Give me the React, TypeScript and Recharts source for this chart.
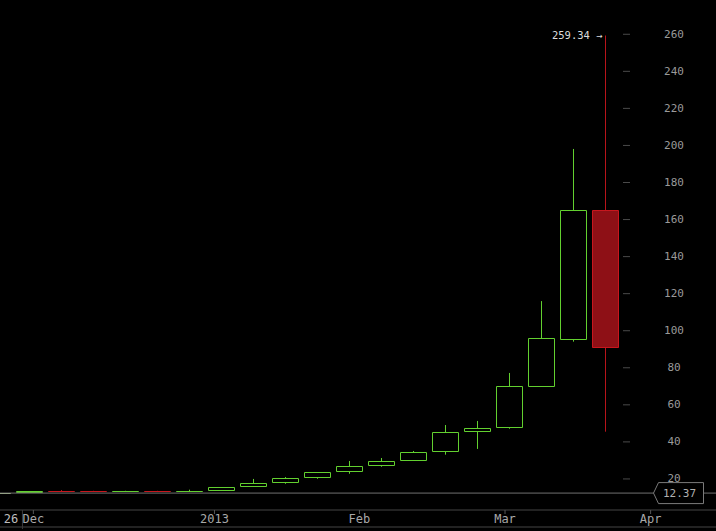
import React from 'react'
import { ComposedChart, Bar, XAxis, YAxis, ReferenceLine, ReferenceDot } from 'recharts'

// weekly candles, index 0 = first full week shown
const weekIndex = [-1, 0, 1, 2, 3, 4, 5, 6, 7, 8, 9, 10, 11, 12, 13, 14, 15, 16, 17, 18]
const opens = [12.3, 12.85, 13.5, 13.45, 13.35, 13.5, 13.4, 13.9, 16.0, 18.2, 20.9, 24.1, 27.4, 30.1, 34.9, 46.1, 47.8, 70.3, 95.7, 165.0]
const highs = [12.45, 13.5, 14.0, 13.6, 13.6, 13.6, 14.2, 15.6, 20.0, 21.0, 23.7, 29.7, 31.3, 35.1, 49.1, 51.3, 77.2, 116.0, 198.1, 259.34]
const lows = [12.25, 12.8, 13.3, 13.3, 13.2, 13.3, 13.3, 13.8, 15.9, 17.4, 20.1, 22.8, 26.6, 30.0, 33.1, 36.2, 47.1, 69.8, 94.1, 45.5]
const closes = [12.4, 13.4, 13.4, 13.35, 13.5, 13.4, 13.5, 15.5, 17.6, 20.3, 23.6, 26.8, 29.5, 34.4, 45.2, 47.3, 70.0, 95.9, 165.0, 91.4]

const priceTicks = [20, 40, 60, 80, 100, 120, 140, 160, 180, 200, 220, 240, 260]
const dateTickPos = [-0.58, 0.12, 5.78, 10.31, 14.86, 19.41]
const dateTickLabels = ['26', 'Dec', '2013', 'Feb', 'Mar', 'Apr']

const lastPrice = 12.37
const peakIndex = 18
const peakPrice = 259.34

const W = 716
const H = 531
const FONT = '"DejaVu Sans Mono", monospace'
const UP = '#62d02f'
const DOWN_STROKE = '#c8161d'
const DOWN_FILL = '#8e1016'

const data = weekIndex.map((i, k) => ({
  i,
  open: opens[k],
  high: highs[k],
  low: lows[k],
  close: closes[k],
}))

const Candle = (props: any) => {
  const { x, y, width, height, payload } = props
  const { open, close, high, low, i } = payload
  const top = Math.min(y, y + height)
  const span = Math.abs(height)
  const ppu = span / (high - low)
  const py = (v: number) => top + (high - v) * ppu
  const cx = Math.round(x + width / 2) + 0.5
  const up = close >= open
  const stroke = i < 0 ? '#c3e3a2' : up ? UP : DOWN_STROKE
  const fill = i < 0 ? '#c3e3a2' : up ? '#000' : DOWN_FILL
  const bTop = Math.round(py(Math.max(open, close))) + 0.5
  const bBot = Math.max(Math.round(py(Math.min(open, close))) + 0.5, bTop)
  const l = cx - 13
  const r = cx + 13
  return (
    <g>
      <line x1={cx} x2={cx} y1={py(high)} y2={py(low)} stroke={up ? UP : '#b8141b'} strokeWidth={1} />
      <path
        d={`M${l},${bTop} H${r} V${bBot} H${l} Z`}
        fill={fill}
        stroke={stroke}
        strokeWidth={1}
      />
    </g>
  )
}

const PriceTick = (props: any) => {
  const { y, payload } = props
  return (
    <g>
      <line x1={623} x2={630} y1={y} y2={y} stroke="#4a4a4a" />
      <text x={674} y={y} textAnchor="middle" dominantBaseline="central" fill="#9a9a9a" fontSize={11} fontFamily={FONT}>
        {payload.value}
      </text>
    </g>
  )
}

const DateTick = (props: any) => {
  const { x, index } = props
  const label = dateTickLabels[index]
  const top = 510
  if (label === '26') {
    return (
      <g>
        <line x1={x + 11.5} x2={x + 11.5} y1={top} y2={529} stroke="#3a3a3a" />
        <text x={x} y={519} textAnchor="middle" dominantBaseline="central" fill="#bdbdbd" fontSize={12} fontFamily={FONT}>
          {label}
        </text>
      </g>
    )
  }
  return (
    <g>
      <line x1={x} x2={x} y1={top} y2={top + 4} stroke="#555" />
      <text x={x} y={519} textAnchor="middle" dominantBaseline="central" fill="#a8a8a8" fontSize={12} fontFamily={FONT}>
        {label}
      </text>
    </g>
  )
}

const LastPriceLabel = (props: any) => {
  const { viewBox } = props
  const y = viewBox.y
  const right = viewBox.x + viewBox.width - 12.5
  const left = right - 45
  return (
    <g>
      <path
        d={`M${left - 5},${y} L${left},${y - 10.5} L${right},${y - 10.5} L${right},${y + 10.5} L${left},${y + 10.5} Z`}
        fill="#000"
        stroke="#7a7a7a"
      />
      <text x={left + 21} y={y} textAnchor="middle" dominantBaseline="central" fill="#b0b0b0" fontSize={11} fontFamily={FONT}>
        {lastPrice.toFixed(2)}
      </text>
    </g>
  )
}

const PeakLabel = (props: any) => {
  const { cx, cy } = props
  return (
    <text x={cx - 3} y={cy} textAnchor="end" dominantBaseline="central" fill="#dcdcdc" fontSize={10.5} fontFamily={FONT}>
      {`${peakPrice.toFixed(2)} →`}
    </text>
  )
}

export default function App() {
  return (
    <div style={{ position: 'absolute', left: 0, top: 0, width: W, height: H, background: '#000', overflow: 'hidden' }}>
      <ComposedChart width={W} height={H} data={data} margin={{ top: 0, right: 0, bottom: 0, left: 0 }}>
        <XAxis
          dataKey="i"
          type="number"
          domain={[-0.922, -0.922 + W / 32]}
          allowDataOverflow
          ticks={dateTickPos}
          interval={0}
          height={17}
          axisLine={{ stroke: '#444' }}
          tickLine={false}
          tick={<DateTick />}
        />
        <XAxis
          xAxisId="frame"
          type="number"
          domain={[0, 1]}
          height={4}
          axisLine={{ stroke: '#444' }}
          tickLine={false}
          tick={false}
        />
        <YAxis
          type="number"
          orientation="right"
          mirror
          width={60}
          domain={[3.24, 278.5]}
          allowDataOverflow
          ticks={priceTicks}
          interval={0}
          axisLine={false}
          tickLine={false}
          tick={<PriceTick />}
        />
        <ReferenceLine y={lastPrice} stroke="#707070" label={<LastPriceLabel />} />
        <Bar dataKey={(d: any) => [d.low, d.high]} barSize={27} shape={<Candle />} isAnimationActive={false} />
        <ReferenceDot x={peakIndex} y={peakPrice} r={0} shape={<PeakLabel />} />
      </ComposedChart>
    </div>
  )
}
